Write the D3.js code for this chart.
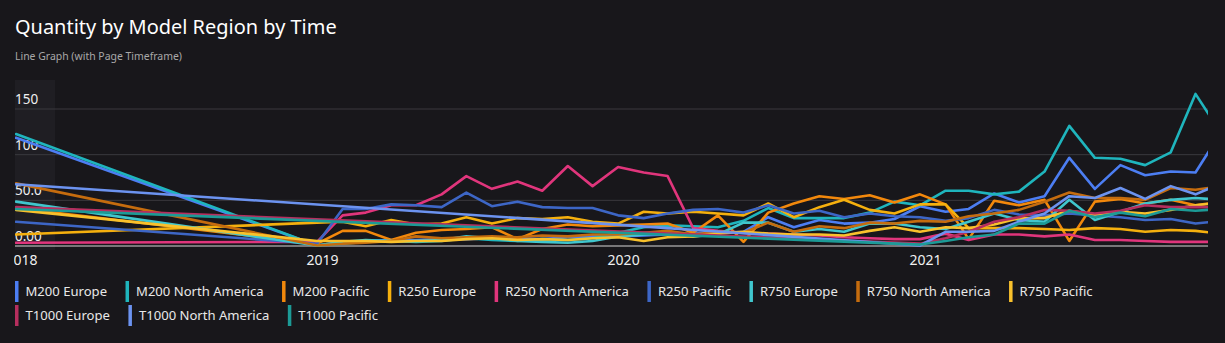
<!DOCTYPE html>
<html><head><meta charset="utf-8">
<script src="https://cdn.jsdelivr.net/npm/d3@7"></script>
<style>
html,body{margin:0;padding:0;background:#18171b;overflow:hidden;}
svg{display:block;}
text{font-family:"Segoe UI","Noto Sans","Open Sans",sans-serif;}
</style></head><body>
<svg id="chart" width="1225" height="343"></svg>
<script>
const _ = null;
const months = ["2018-01","2018-02","2018-03","2018-04","2018-05","2018-06","2018-07","2018-08","2018-09","2018-10","2018-11","2018-12",
"2019-01","2019-02","2019-03","2019-04","2019-05","2019-06","2019-07","2019-08","2019-09","2019-10","2019-11","2019-12",
"2020-01","2020-02","2020-03","2020-04","2020-05","2020-06","2020-07","2020-08","2020-09","2020-10","2020-11","2020-12",
"2021-01","2021-02","2021-03","2021-04","2021-05","2021-06","2021-07","2021-08","2021-09","2021-10","2021-11","2021-12","2022-01"];

const seriesNames = ["M200 Europe","M200 North America","M200 Pacific","R250 Europe","R250 North America","R250 Pacific",
"R750 Europe","R750 North America","R750 Pacific","T1000 Europe","T1000 North America","T1000 Pacific"];
const seriesColors = ["#4c7ef3","#1fb5bd","#f2880c","#f5b00e","#e0357c","#3d66c6","#40c6cd","#c56c0e","#f9c12c","#b62e5e","#6c93f0","#1c9a96"];

const m200Europe = [118,_,_,_,_,_,_,_,_,_,_,_,0,4,5,6,6,7,7,8,8,7,9,10,10,11,12,13,14,15,31,20,28,24,25,29,43,37,40,57,47,54,96,62,88,77,81,80,124];
const m200NorthAmerica = [122,_,_,_,_,_,_,_,_,_,_,_,0,2,4,5,4,5,8,6,5,7,6,8,14,20,22,21,20,27,41,30,30,30,36,48,44,60,60,56,59,81,131,96,95,88,102,166,123];
const m200Pacific = [41,_,_,_,_,_,_,_,_,_,_,_,2,16,16,6,14,17,18,20,7,18,23,21,22,23,24,14,33,4,36,46,54,51,55,47,56,45,7,49,44,50,5,48,51,46,50,44,48];
const r250Europe = [12,_,_,_,_,_,_,_,_,_,_,_,25,26,21,28,23,24,31,24,30,29,31,26,24,37,35,37,35,33,46,31,42,50,39,35,45,45,19,19,19,18,17,19,18,15,17,16,13];
const r250NorthAmerica = [3,_,_,_,_,_,_,_,_,_,_,_,4,33,36,44,44,56,76,62,70,60,87,65,86,80,76,19,16,14,13,12,11,9,8,7,7,13,6,12,12,10,12,6,6,5,4,4,4];
const r250Pacific = [26,_,_,_,_,_,_,_,_,_,_,_,2,40,40,45,44,42,58,43,48,42,41,41,33,30,35,39,40,36,44,35,38,31,35,32,31,27,30,39,34,33,35,33,31,28,29,24,27];
const r750Europe = [48,_,_,_,_,_,_,_,_,_,_,_,0,4,6,5,5,6,10,8,5,4,3,5,10,12,14,10,12,25,25,15,18,15,24,24,20,18,26,35,28,26,50,28,37,46,50,52,50];
const r750NorthAmerica = [68,_,_,_,_,_,_,_,_,_,_,_,0,2,3,5,10,8,9,10,9,11,10,12,12,14,16,12,15,14,25,15,21,19,25,24,27,26,32,35,39,48,58,52,52,50,63,61,65];
const r750Pacific = [39,_,_,_,_,_,_,_,_,_,_,_,5,5,5,4,5,5,7,8,6,7,6,8,9,5,9,10,13,15,13,12,12,11,16,20,15,20,19,23,30,30,38,34,37,35,39,44,47];
const t1000Europe = [42,_,_,_,_,_,_,_,_,_,_,_,_,_,_,_,_,_,_,_,_,_,_,_,_,_,_,_,_,_,_,_,_,_,_,_,2,8,15,26,31,39,38,35,38,44,42,42,42];
const t1000NorthAmerica = [67,_,_,_,_,_,_,_,_,_,_,_,_,_,_,_,_,_,_,_,_,_,_,_,_,_,19,_,_,_,_,_,_,_,_,_,0,15,15,16,26,35,54,52,63,51,65,56,68];
const t1000Pacific = [40,_,_,_,_,_,_,_,_,_,_,_,_,_,_,_,_,_,_,_,_,_,_,_,_,_,_,_,_,_,_,_,_,_,_,_,1,5,9,12,24,24,38,31,36,32,40,38,40];

const seriesValues = [m200Europe,m200NorthAmerica,m200Pacific,r250Europe,r250NorthAmerica,r250Pacific,
  r750Europe,r750NorthAmerica,r750Pacific,t1000Europe,t1000NorthAmerica,t1000Pacific];

const yTicks = [0,50,100,150];
const yTickLabels = ["0.00","50.0","100","150"];
const xTickMonths = ["2018-01","2019-01","2020-01","2021-01"];
const xTickLabels = ["2018","2019","2020","2021"];

const W = 1225, H = 343;
const plotL = 15, plotR = 1208, plotT = 78, plotB = 252;
const svg = d3.select("#chart");
svg.append("rect").attr("width", W).attr("height", H).attr("fill", "#18171b");

const parse = d3.timeParse("%Y-%m");
const dates = months.map(parse);
const x = d3.scaleTime().domain([parse("2018-01"), parse("2021-01")]).range([16, 920]);
const y = d3.scaleLinear().domain([0, 150]).range([245.5, 108.5]);

const defs = svg.append("defs");
defs.append("clipPath").attr("id", "plotClip").append("rect")
  .attr("x", plotL).attr("y", plotT).attr("width", plotR - plotL).attr("height", plotB - plotT);
defs.append("clipPath").attr("id", "axisClip").append("rect")
  .attr("x", plotL - 1).attr("y", 240).attr("width", W - plotL).attr("height", 40);

// title + subtitle
function fit(sel, target) {
  const fs = parseFloat(sel.attr("font-size"));
  const w = sel.node().getComputedTextLength();
  sel.attr("font-size", (fs * target / w).toFixed(2));
}
const title = svg.append("text").attr("x", 15).attr("y", 34).attr("font-size", 20)
  .attr("fill", "#ffffff").text("Quantity by Model Region by Time");
fit(title, 322);
const sub = svg.append("text").attr("x", 15).attr("y", 60).attr("font-size", 10)
  .attr("fill", "#a8a8a8").text("Line Graph (with Page Timeframe)");
fit(sub, 167);

// y-label panel
svg.append("rect").attr("x", 15).attr("y", 80).attr("width", 40).attr("height", 170).attr("fill", "#1f1e23");

// y axis with gridlines
const gy = svg.append("g").attr("transform", `translate(${plotL},0)`)
  .call(d3.axisLeft(y).tickValues(yTicks).tickSize(-(plotR - plotL)).tickFormat((d, i) => yTickLabels[i]));
gy.select(".domain").remove();
gy.selectAll(".tick line").attr("stroke", d => d === 0 ? "#d8d8d8" : "#3a393e").attr("stroke-width", 1);
gy.selectAll(".tick text").attr("x", 0).attr("dy", 0).attr("y", -5)
  .attr("text-anchor", "start").attr("fill", "#f0f0f0").attr("font-size", 13.5)
  .style("font-family", '"Segoe UI","Noto Sans","Open Sans",sans-serif');

// x axis
const gx = svg.append("g").attr("clip-path", "url(#axisClip)").append("g")
  .attr("transform", "translate(0,250)")
  .call(d3.axisBottom(x).tickValues(xTickMonths.map(parse)).tickSize(0).tickFormat((d, i) => xTickLabels[i]));
gx.select(".domain").remove();
gx.selectAll(".tick text").attr("y", 15).attr("dy", 0).attr("dx", 5)
  .attr("fill", "#f0f0f0").attr("font-size", 14)
  .style("font-family", '"Segoe UI","Noto Sans","Open Sans",sans-serif');

// lines
const line = d3.line().x(p => x(p.d)).y(p => y(p.v));
const gl = svg.append("g").attr("clip-path", "url(#plotClip)");
seriesValues.forEach((arr, si) => {
  const pts = dates.map((d, i) => ({ d, v: arr[i] })).filter(p => p.v != null);
  gl.append("path").datum(pts).attr("d", line).attr("fill", "none")
    .attr("stroke", seriesColors[si]).attr("stroke-width", 2.6)
    .attr("stroke-linejoin", "round").attr("stroke-linecap", "round");
});

// legend
const rows = [seriesNames.slice(0, 9), seriesNames.slice(9)];
const rowY = [291.5, 315.5];
const legX0 = 15, txtOff = 10.5, gap = 18.5, row1End = 1093;
const gLeg = svg.append("g");
const probe = gLeg.append("text").attr("font-size", 14);
const measure = s => { probe.text(s); return probe.node().getComputedTextLength(); };
const row1W = d3.sum(rows[0], measure);
probe.remove();
const avail = row1End - legX0 - rows[0].length * txtOff - (rows[0].length - 1) * gap;
const legFs = 14 * avail / row1W;
let idx = 0;
rows.forEach((row, ri) => {
  let cx = legX0;
  row.forEach(name => {
    const si = idx++;
    gLeg.append("rect").attr("x", cx).attr("y", rowY[ri] - 10.5).attr("width", 3.5).attr("height", 21)
      .attr("fill", seriesColors[si]);
    const t = gLeg.append("text").attr("x", cx + txtOff).attr("y", rowY[ri]).attr("dy", "0.35em")
      .attr("font-size", legFs.toFixed(2)).attr("fill", "#e8e8e8").text(name);
    cx += txtOff + t.node().getComputedTextLength() + gap;
  });
});
</script>
</body></html>
